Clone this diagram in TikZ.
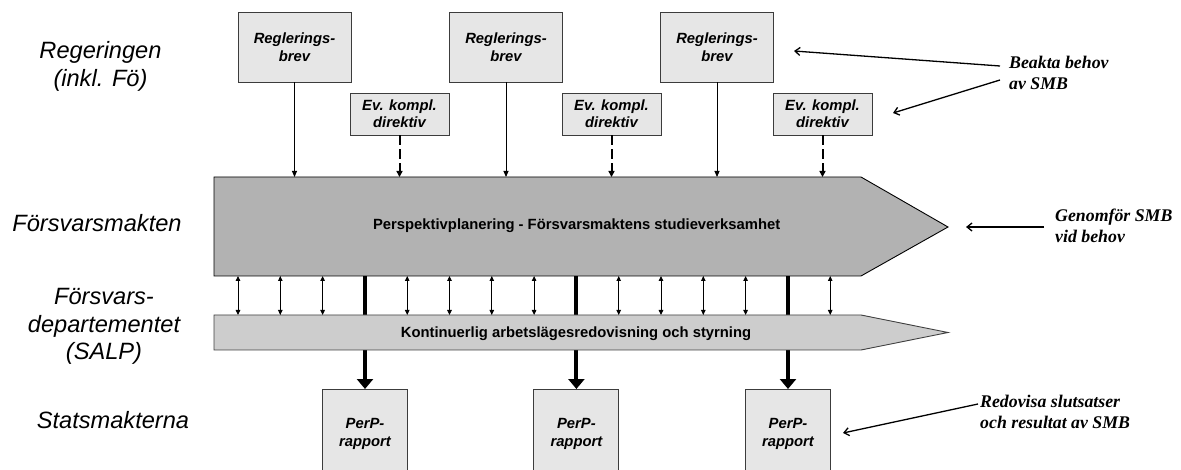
\documentclass[tikz,border=0pt]{standalone}
\usepackage{fontspec}
\setmainfont{Liberation Sans}
\newfontfamily\serifann{Liberation Serif}
\usetikzlibrary{arrows.meta,calc}
\definecolor{boxfill}{RGB}{230,230,230}
\definecolor{mainfill}{RGB}{178,178,178}
\definecolor{secfill}{RGB}{205,205,205}
\definecolor{boxline}{RGB}{60,60,60}
\begin{document}
\begin{tikzpicture}[x=1pt,y=-1pt,
  lbox/.style={draw=boxline, line width=0.9pt, fill=boxfill, align=center, inner sep=0pt,
    font=\fontsize{14.8}{18}\selectfont\bfseries\itshape},
  regbox/.style={lbox, minimum width=113pt, minimum height=70pt},
  evbox/.style={lbox, minimum width=99pt, minimum height=42pt, font=\fontsize{14.8}{17}\selectfont\bfseries\itshape},
  perpbox/.style={lbox, minimum width=85pt, minimum height=88pt, anchor=north},
  bandtext/.style={font=\fontsize{14.8}{18}\selectfont\bfseries, inner sep=0pt, anchor=base},
  rowlabel/.style={align=center, inner sep=0pt, font=\fontsize{23.6}{27.5}\selectfont\itshape},
  anno/.style={align=left, anchor=west, inner sep=0pt, font=\serifann\fontsize{17.8}{21}\selectfont\bfseries\itshape},
  thinarr/.style={line width=0.9pt, -{Triangle[length=6pt,width=5pt]}},
  dasharr/.style={line width=2pt, dash pattern=on 10pt off 4pt, -{Triangle[length=6pt,width=6pt]}},
  dblarr/.style={line width=0.9pt, {Triangle[length=5pt,width=4.5pt]}-{Triangle[length=5pt,width=4.5pt]}},
  thickarr/.style={line width=4pt, -{Triangle[length=10pt,width=16pt]}},
  annoarr/.style={line width=1.3pt, -{Straight Barb[length=5pt,width=8pt]}},
]
\useasboundingbox (0,0) rectangle (1181,470);
\clip (0,0) rectangle (1181,470);

% band geometry
\coordinate (mNW) at (214,177);
\coordinate (mNE) at (861,177);
\coordinate (mTip) at (948,227);
\coordinate (mSE) at (861,276);
\coordinate (mSW) at (214,276);
\coordinate (sNW) at (214,315);
\coordinate (sNE) at (861,315);
\coordinate (sTip) at (948,332.5);
\coordinate (sSE) at (861,350);
\coordinate (sSW) at (214,350);

% report boxes
\node[perpbox] (pp1) at (365,389) {PerP-\\rapport};
\node[perpbox] (pp2) at (576.4,389) {PerP-\\rapport};
\node[perpbox] (pp3) at (788,389) {PerP-\\rapport};

% thick arrows (behind the bands)
\draw[thickarr] (pp1.north |- mSW) -- (pp1.north);
\draw[thickarr] (pp2.north |- mSW) -- (pp2.north);
\draw[thickarr] (pp3.north |- mSW) -- (pp3.north);

% bands
\draw[line width=0.9pt, fill=mainfill] (mNW) -- (mNE) -- (mTip) -- (mSE) -- (mSW) -- cycle;
\draw[draw=black!75, line width=0.9pt, fill=secfill] (sNW) -- (sNE) -- (sTip) -- (sSE) -- (sSW) -- cycle;
\node[bandtext] (maintxt) at (576.7,230) {Perspektivplanering - Försvarsmaktens studieverksamhet};
\node[bandtext] (konttxt) at (576,337.5) {Kontinuerlig arbetslägesredovisning och styrning};

% double arrows between bands
\foreach \i in {0,1,2,4,5,6,7,9,10,11,12,14} {
  \coordinate (dt\i) at ({238+42.3*\i},276);
  \coordinate (db\i) at ({238+42.3*\i},315);
  \draw[dblarr] (dt\i) -- (db\i);
}

% top boxes
\node[regbox] (rb1) at (294.5,47) {Reglerings-\\brev};
\node[regbox] (rb2) at (506,47) {Reglerings-\\brev};
\node[regbox] (rb3) at (717,47) {Reglerings-\\brev};
\node[evbox] (ev1) at (399.5,114) {Ev. kompl.\\direktiv};
\node[evbox] (ev2) at (611.5,114) {Ev. kompl.\\direktiv};
\node[evbox] (ev3) at (822.5,114) {Ev. kompl.\\direktiv};

\draw[thinarr] (rb1.south) -- (rb1.south |- mNW);
\draw[thinarr] (rb2.south) -- (rb2.south |- mNW);
\draw[thinarr] (rb3.south) -- (rb3.south |- mNW);
\draw[dasharr] (ev1.south) -- (ev1.south |- mNW);
\draw[dasharr] (ev2.south) -- (ev2.south |- mNW);
\draw[dasharr] (ev3.south) -- (ev3.south |- mNW);

% row labels
\node[rowlabel] (lreg) at (100.5,66.5) {Regeringen\\(inkl. Fö)};
\node[rowlabel] (lfm) at (97,223) {Försvarsmakten};
\node[rowlabel] (lfd) at (104,326.7) {Försvars-\\departementet\\(SALP)};
\node[rowlabel] (lsm) at (113,419.7) {Statsmakterna};

% annotations
\node[anno] (beakta) at (1009,72.8) {Beakta behov\\av SMB};
\node[anno] (genom) at (1055,226) {Genomför SMB\\vid behov};
\node[anno] (redov) at (980,411.5) {Redovisa slutsatser\\och resultat av SMB};

\coordinate (ba1s) at (1000,66);
\coordinate (ba1e) at (794,51);
\coordinate (ba2s) at (1000,80);
\coordinate (ba2e) at (893,113);
\coordinate (gas) at (1044,227);
\coordinate (gae) at (966,227);
\coordinate (ras) at (978,404);
\coordinate (rae) at (843,433);
\draw[annoarr] (ba1s) -- (ba1e);
\draw[annoarr] (ba2s) -- (ba2e);
\draw[annoarr] (gas) -- (gae);
\draw[annoarr] (ras) -- (rae);
\end{tikzpicture}
\end{document}
